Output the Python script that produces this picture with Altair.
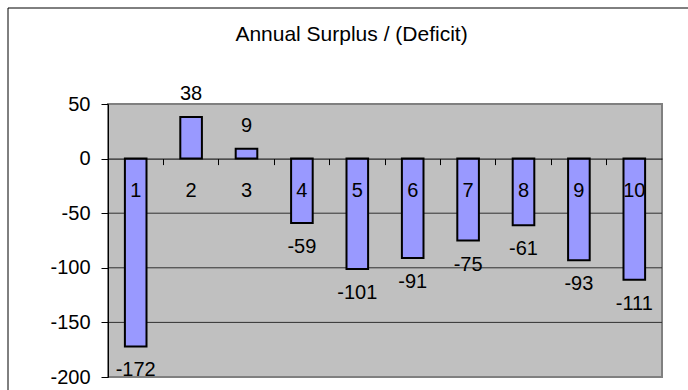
import altair as alt
import pandas as pd

years = ["1", "2", "3", "4", "5", "6", "7", "8", "9", "10"]
surplus = [-172, 38, 9, -59, -101, -91, -75, -61, -93, -111]
y_ticks = [-200, -150, -100, -50, 0, 50]
grid_values = [-150, -100, -50]
y_domain = [-200, 50]
title_text = "Annual Surplus / (Deficit)"

FONT = "Liberation Sans"
W, H = 554, 273
zero_px = H * (y_domain[1] - 0) / (y_domain[1] - y_domain[0])

df = pd.DataFrame({"year": years, "value": surplus})
grid_df = pd.DataFrame({"g": grid_values})
one = pd.DataFrame({"a": [0]})

x_enc = alt.X(
    "year:N",
    sort=years,
    scale=alt.Scale(paddingInner=0, paddingOuter=0),
    axis=alt.Axis(
        orient="bottom",
        offset=-(H - zero_px),
        labels=False,
        ticks=True,
        tickSize=6,
        tickColor="black",
        tickWidth=1,
        bandPosition=0,
        domainColor="black",
        domainWidth=1,
        title=None,
        grid=False,
        zindex=1,
    ),
)
y_enc = alt.Y(
    "value:Q",
    scale=alt.Scale(domain=y_domain, nice=False, zero=False),
    axis=alt.Axis(
        values=y_ticks,
        labelExpr="'' + datum.value",
        tickSize=7,
        tickColor="black",
        labelPadding=11,
        labelFont=FONT,
        labelFontSize=20,
        labelColor="black",
        domainColor="black",
        domainWidth=1,
        grid=False,
        title=None,
        zindex=1,
    ),
)

grid = alt.Chart(grid_df).mark_rule(color="#303030", strokeWidth=1).encode(
    y=alt.Y("g:Q")
)

bars = alt.Chart(df).mark_bar(
    width=alt.RelativeBandSize(0.39), fill="#9999FF", stroke="black", strokeWidth=2
).encode(x=x_enc, y=y_enc)

cat_labels = alt.Chart(df).mark_text(
    dy=32, baseline="middle", align="center", font=FONT, fontSize=20, color="black"
).encode(x=alt.X("year:N", sort=years), y=alt.datum(0), text="year:N")

pos_labels = alt.Chart(df).transform_filter("datum.value >= 0").transform_calculate(
    lbl="'' + datum.value"
).mark_text(
    dy=-23, baseline="middle", align="center", font=FONT, fontSize=20, color="black"
).encode(x=alt.X("year:N", sort=years), y="value:Q", text="lbl:N")

neg_labels = alt.Chart(df).transform_filter("datum.value < 0").transform_calculate(
    lbl="'' + datum.value"
).mark_text(
    dy=24, baseline="middle", align="center", font=FONT, fontSize=20, color="black"
).encode(x=alt.X("year:N", sort=years), y="value:Q", text="lbl:N")

title = alt.Chart(one).mark_text(
    baseline="alphabetic", align="center", font=FONT, fontSize=21, color="black"
).encode(x=alt.value(243.5), y=alt.value(-63), text=alt.value(title_text))

border = alt.Chart(one).mark_rect(
    fill="transparent", stroke="black", strokeWidth=1
).encode(
    x=alt.value(-100), x2=alt.value(W + 60), y=alt.value(-96), y2=alt.value(H + 60)
)

chart = (
    alt.layer(grid, bars, cat_labels, pos_labels, neg_labels, title, border)
    .properties(
        width=W,
        height=H,
        autosize="none",
        padding={"left": 108, "top": 104, "right": 26, "bottom": 13},
        background="white",
    )
    .configure_view(fill="#C0C0C0", stroke="#808080", strokeWidth=2)
)

chart.save("out.html", embed_options={"renderer": "svg", "actions": False})
